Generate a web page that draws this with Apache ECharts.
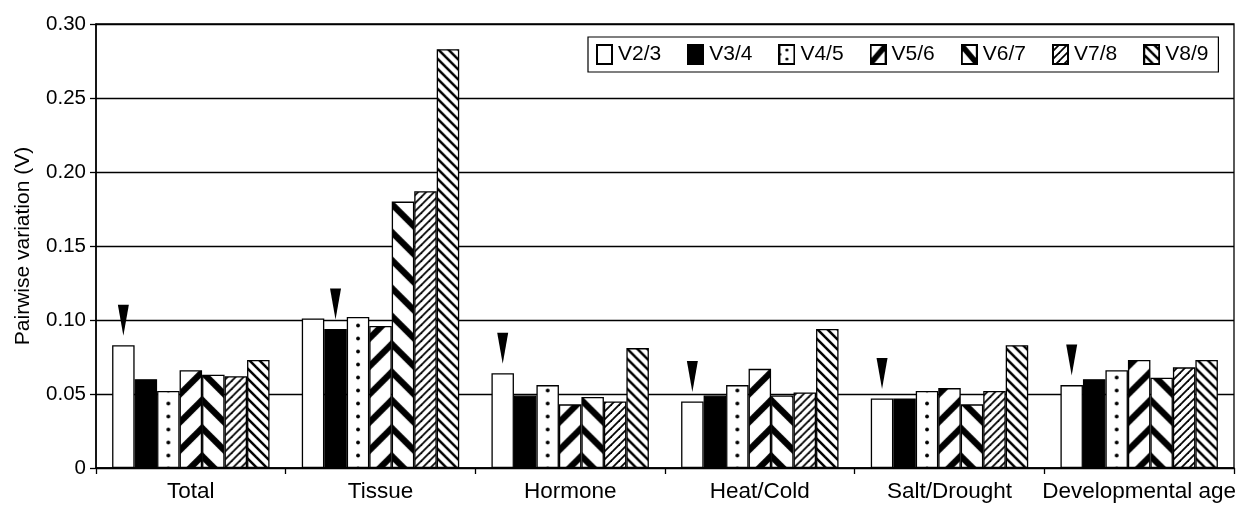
<!DOCTYPE html>
<html><head><meta charset="utf-8">
<script src="https://cdn.jsdelivr.net/npm/echarts@6/dist/echarts.min.js"></script>
<style>html,body{margin:0;padding:0;background:#fff}#c{width:1251px;height:506px}</style>
</head><body><div id="c"></div>
<script>
// ---- data ----
const categories = ['Total', 'Tissue', 'Hormone', 'Heat/Cold', 'Salt/Drought', 'Developmental age'];
const seriesNames = ['V2/3', 'V3/4', 'V4/5', 'V5/6', 'V6/7', 'V7/8', 'V8/9'];
const v23 = [0.083, 0.101, 0.064, 0.045, 0.047, 0.056];
const v34 = [0.060, 0.094, 0.049, 0.049, 0.047, 0.060];
const v45 = [0.052, 0.102, 0.056, 0.056, 0.052, 0.066];
const v56 = [0.066, 0.096, 0.043, 0.067, 0.054, 0.073];
const v67 = [0.063, 0.180, 0.048, 0.049, 0.043, 0.061];
const v78 = [0.062, 0.187, 0.045, 0.051, 0.052, 0.068];
const v89 = [0.073, 0.283, 0.081, 0.094, 0.083, 0.073];
const yTicks = [0, 0.05, 0.10, 0.15, 0.20, 0.25, 0.30];
const arrowMarked = ['V2/3', 'V3/4', 'V2/3', 'V2/3', 'V2/3', 'V2/3'];
const seriesValues = [v23, v34, v45, v56, v67, v78, v89];

// ---- pattern tiles ----
function tile(w, h, draw) {
  const c = document.createElement('canvas');
  c.width = w; c.height = h;
  const g = c.getContext('2d');
  g.fillStyle = '#fff'; g.fillRect(0, 0, w, h);
  g.strokeStyle = '#000'; g.fillStyle = '#000';
  draw(g, w, h);
  return c;
}
function diag(P, lw, up) {
  return tile(P, P, function (g) {
    g.lineWidth = lw;
    for (const o of [-P, 0, P]) {
      g.beginPath();
      if (up) { g.moveTo(o - P, 2 * P); g.lineTo(o + 2 * P, -P); }
      else { g.moveTo(o - P, -P); g.lineTo(o + 2 * P, 2 * P); }
      g.stroke();
    }
  });
}
const DOT_W = 60, DOT_H = 13;
const tiles = {
  dots: tile(DOT_W, DOT_H, function (g) { g.beginPath(); g.arc(DOT_W / 2, DOT_H / 2, 1.9, 0, Math.PI * 2); g.fill(); }),
  thickUp: diag(28, 6.3, true),
  thickDown: diag(28, 6.3, false),
  thinUp: diag(8, 1.8, true),
  thinDown: diag(10, 2.5, false)
};
const kinds = ['white', 'black', 'dots', 'thickUp', 'thickDown', 'thinUp', 'thinDown'];
function fillFor(kind, lay) {
  if (kind === 'white') return '#fff';
  if (kind === 'black') return '#000';
  const p = { image: tiles[kind], repeat: 'repeat' };
  if (lay) {
    const bottom = lay.y;
    if (kind === 'dots') { p.x = lay.x + lay.width / 2 - DOT_W / 2; p.y = bottom - 6; }
    else if (kind === 'thickUp') { p.x = lay.x + lay.width; p.y = bottom - 12; }
    else if (kind === 'thickDown') { p.x = lay.x; p.y = bottom - 12; }
    else { p.x = lay.x; p.y = bottom; }
  }
  return p;
}

// legend icons drawn as small images (pattern + frame)
const IW = 17, IH = 21;
function legendIcon(kind) {
  const c = document.createElement('canvas');
  c.width = IW; c.height = IH;
  const g = c.getContext('2d');
  g.fillStyle = '#fff'; g.fillRect(0, 0, IW, IH);
  g.fillStyle = '#000'; g.strokeStyle = '#000';
  if (kind === 'black') { g.fillRect(0, 0, IW, IH); }
  else if (kind === 'dots') {
    g.beginPath(); g.arc(IW / 2, 6, 1.6, 0, Math.PI * 2); g.fill();
    g.beginPath(); g.arc(IW / 2, 15, 1.6, 0, Math.PI * 2); g.fill();
    g.beginPath(); g.arc(1.5, 10.5, 1.4, 0, Math.PI * 2); g.fill();
  } else if (kind === 'thickUp' || kind === 'thickDown') {
    g.lineWidth = 5.5; g.beginPath();
    if (kind === 'thickUp') { g.moveTo(-2, IH + 2); g.lineTo(IW + 2, -2); }
    else { g.moveTo(-2, -2); g.lineTo(IW + 2, IH + 2); }
    g.stroke();
  } else if (kind === 'thinUp' || kind === 'thinDown') {
    const pat = g.createPattern(tiles[kind], 'repeat');
    g.fillStyle = pat; g.fillRect(0, 0, IW, IH);
  }
  g.lineWidth = 2; g.strokeStyle = '#000';
  g.strokeRect(1, 1, IW - 2, IH - 2);
  return 'image://' + c.toDataURL();
}

const arrowPath = 'path://M0,0 L10,0 L5,30 Z';
function buildSeries(layouts) {
  return seriesNames.map(function (name, i) {
    const vals = seriesValues[i];
    const marks = [];
    categories.forEach(function (c, j) {
      if (arrowMarked[j] === name) marks.push({ coord: [j, vals[j]] });
    });
    return {
      name: name,
      type: 'bar',
      barGap: '0%',
      barCategoryGap: '17%',
      itemStyle: { color: fillFor(kinds[i], null), borderColor: '#000', borderWidth: 1.3 },
      emphasis: { disabled: true },
      data: vals.map(function (v, j) {
        if (!layouts) return v;
        return { value: v, itemStyle: { color: fillFor(kinds[i], layouts[i][j]) } };
      }),
      markPoint: marks.length ? {
        symbol: arrowPath,
        symbolSize: [11, 31],
        symbolOffset: [0, -25],
        itemStyle: { color: '#000', borderWidth: 0 },
        label: { show: false },
        silent: true,
        data: marks
      } : undefined
    };
  });
}

const FONT = 'Liberation Sans, Arial, sans-serif';
const chart = echarts.init(document.getElementById('c'), null, { renderer: 'canvas' });
const option = {
  animation: false,
  backgroundColor: '#fff',
  grid: { left: 96, right: 17, top: 24, bottom: 38, show: true, borderColor: '#000', borderWidth: 1.3, backgroundColor: 'transparent' },
  legend: {
    data: seriesNames.map(function (n, i) { return { name: n, icon: legendIcon(kinds[i]) }; }),
    left: 588, top: 37,
    padding: [7, 10, 7, 8],
    itemGap: 26,
    itemWidth: IW, itemHeight: IH,
    borderColor: '#000', borderWidth: 1.2,
    backgroundColor: '#fff',
    textStyle: { fontFamily: FONT, fontSize: 21, color: '#000', padding: [0, 0, 0, 0] },
    selectedMode: false
  },
  xAxis: {
    type: 'category',
    data: categories,
    axisLine: { lineStyle: { color: '#000', width: 1.5 } },
    axisTick: { show: true, length: 6, lineStyle: { color: '#000', width: 1.3 } },
    axisLabel: { interval: 0, fontFamily: FONT, fontSize: 22.5, color: '#000', margin: 12 }
  },
  yAxis: {
    type: 'value',
    min: yTicks[0], max: yTicks[yTicks.length - 1], interval: yTicks[1] - yTicks[0],
    name: 'Pairwise variation (V)',
    nameLocation: 'middle',
    nameGap: 62,
    nameTextStyle: { fontFamily: FONT, fontSize: 21, color: '#000' },
    axisLine: { show: true, lineStyle: { color: '#000', width: 1.5 } },
    axisTick: { show: true, length: 6, lineStyle: { color: '#000', width: 1.3 } },
    axisLabel: {
      fontFamily: FONT, fontSize: 20.5, color: '#000', margin: 10,
      formatter: function (v) { return v === 0 ? '0' : v.toFixed(2); }
    },
    splitLine: { show: true, lineStyle: { color: '#000', width: 1.3 } }
  },
  series: buildSeries(null)
};
chart.setOption(option);

// second pass: anchor the fill patterns to each drawn bar (layout from ECharts itself)
const model = chart.getModel();
const layouts = seriesNames.map(function (n, i) {
  const d = model.getSeriesByIndex(i).getData();
  return categories.map(function (c, j) { return d.getItemLayout(j); });
});
chart.setOption({ series: buildSeries(layouts) });
</script>
</body></html>
